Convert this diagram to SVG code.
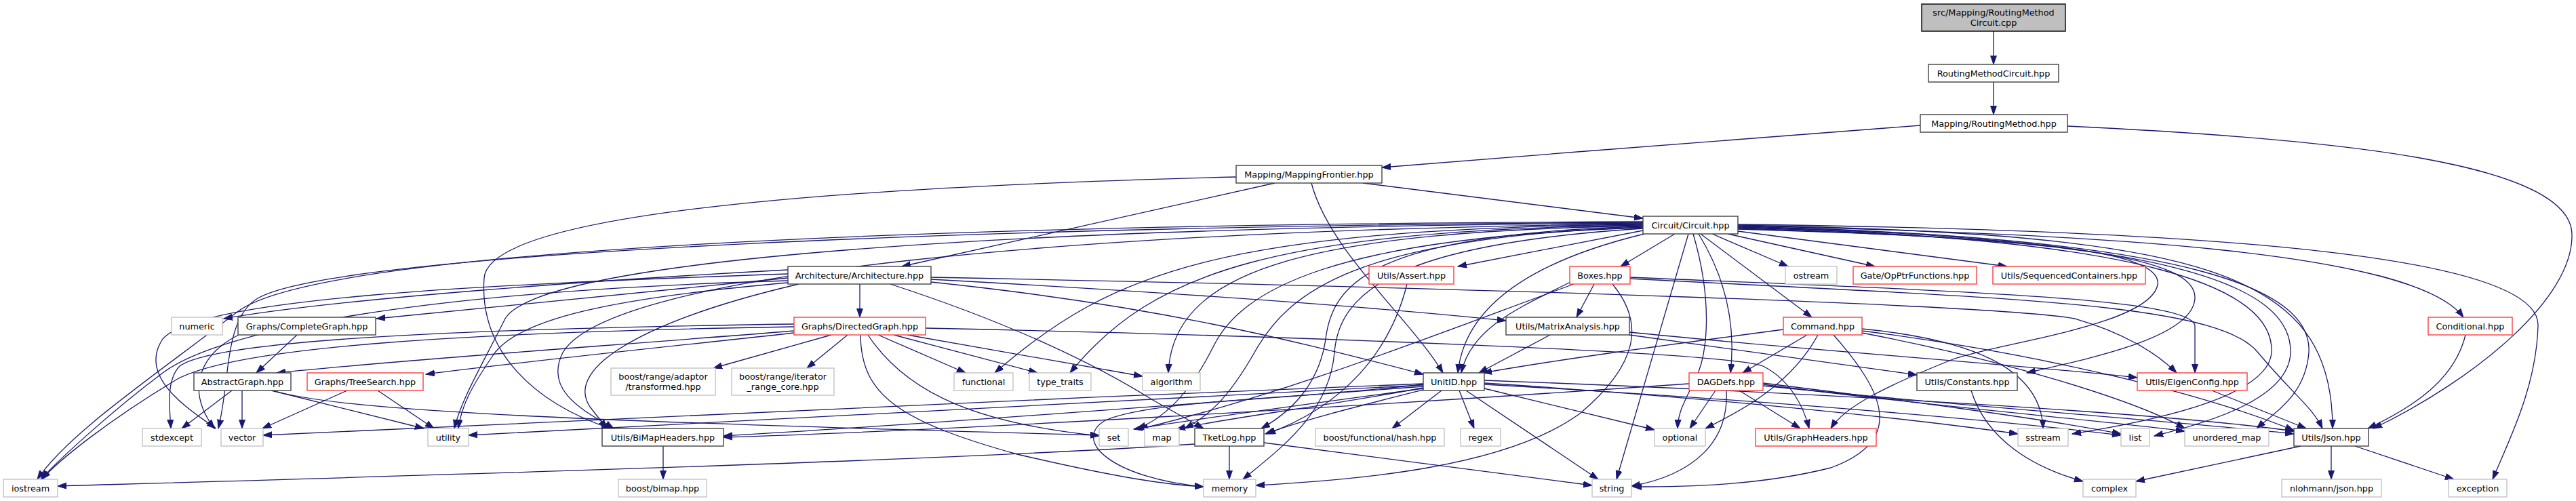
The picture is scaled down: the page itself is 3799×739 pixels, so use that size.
<svg xmlns="http://www.w3.org/2000/svg" width="3799" height="739" viewBox="0 0 3799 739">
<style>
rect{fill:#fff;stroke-width:1.4}
.k rect{stroke:#404040}
.r rect{stroke:#ff3c3c}
.g rect{stroke:#c4c4c4}
.root rect{fill:#bfbfbf;stroke:#000}
text{font-family:"DejaVu Sans","Liberation Sans",sans-serif;font-size:12.8px;fill:#000;text-anchor:middle}
#edges path{fill:none;stroke:#191970;stroke-width:1.3;marker-end:url(#a)}
</style>
<defs>
<marker id="a" markerWidth="14" markerHeight="11" refX="13" refY="5" orient="auto" markerUnits="userSpaceOnUse"><path d="M0,0.5 L13,5 L0,9.5 z" fill="#191970" stroke="#191970" stroke-width="1"/></marker>
</defs>
<rect x="0" y="0" width="3799" height="739" style="fill:#fff;stroke:none"/>
<g id="edges">
<path d="M2940,46 L2940,95"/>
<path d="M2940,121 L2940,169"/>
<path d="M2832,185 C2600,202 2300,226 2038,247"/>
<path d="M3049,186 C3450,205 3790,240 3793,345 C3796,440 3650,560 3500,632"/>
<path d="M2010,270 L2423,322"/>
<path d="M1880,270 L1330,393"/>
<path d="M1934,270 C1960,370 2080,470 2128,550"/>
<path d="M1823,261 C1400,272 722,300 714,410 C706,520 790,595 900,632"/>
<path d="M2423,340 L2150,393"/>
<path d="M2470,345 L2390,393"/>
<path d="M2525,345 L2637,393"/>
<path d="M2548,345 L2765,393"/>
<path d="M2563,341 L2960,393"/>
<path d="M2508,345 L2672,468"/>
<path d="M2425,345 C2260,385 2160,450 2150,550"/>
<path d="M2490,345 L2384,707"/>
<path d="M2497,345 C2525,440 2520,520 2500,560 C2480,600 2475,610 2474,632"/>
<path d="M2505,345 C2545,410 2560,480 2552,550"/>
<path d="M2563,333 C3100,345 3560,370 3633,468"/>
<path d="M2563,331 C3300,340 3745,380 3743,480 C3741,570 3700,650 3676,707"/>
<path d="M2563,332 C3250,345 3440,400 3440,632"/>
<path d="M2563,334 C3250,350 3410,430 3405,520 C3400,585 3350,612 3328,632"/>
<path d="M2563,335 C3200,350 3380,420 3378,520 C3376,590 3250,625 3177,643"/>
<path d="M2563,336 C3150,350 3355,420 3350,520 C3345,590 3150,625 3056,640"/>
<path d="M2563,337 C3050,352 3240,380 3237,440 C3234,495 3100,525 2989,550"/>
<path d="M2563,338 C3000,350 3190,370 3182,420 C3170,480 2950,505 2880,530 C2780,570 2720,600 2700,632"/>
<path d="M2423,331 C1800,338 1640,400 1467,550"/>
<path d="M2423,332 C1880,340 1700,400 1578,550"/>
<path d="M2423,333 C1950,342 1730,390 1723,550"/>
<path d="M2423,334 C2020,345 1965,420 1955,500 C1945,570 1900,610 1860,632"/>
<path d="M2423,335 C2000,350 1900,430 1850,520 C1810,590 1780,615 1747,632"/>
<path d="M2423,336 C1960,350 1830,430 1790,510 C1750,590 1710,620 1677,632"/>
<path d="M2423,337 C2060,360 1975,430 1968,520 C1960,610 1890,660 1833,707"/>
<path d="M2423,329 C1500,335 800,380 745,470 C710,540 680,590 670,632"/>
<path d="M2423,328 C1500,333 500,370 380,440 C330,470 340,560 322,632"/>
<path d="M2423,327 C1500,330 480,360 350,460 C220,560 100,640 55,707"/>
<path d="M2423,330 C1600,340 900,400 830,520 C800,580 870,610 905,632"/>
<path d="M1268,419 L1268,468"/>
<path d="M1162,398 C900,412 500,440 330,470"/>
<path d="M1162,410 L555,470"/>
<path d="M1162,404 C700,420 290,440 240,500 C200,560 290,610 318,632"/>
<path d="M1162,414 C600,430 320,490 240,550 C160,610 85,680 60,707"/>
<path d="M1162,417 C900,440 770,470 730,520 C695,570 680,600 676,632"/>
<path d="M1178,419 C960,470 830,540 870,600 L895,632"/>
<path d="M1313,419 C1500,480 1620,540 1700,590 L1775,632"/>
<path d="M1373,412 C1700,430 2000,450 2221,473"/>
<path d="M1373,416 C1700,450 1900,500 2099,552"/>
<path d="M1373,409 C2200,425 2950,450 3060,470 C3130,490 3180,520 3210,550"/>
<path d="M2351,419 L2325,468"/>
<path d="M2318,415 C2250,450 2170,480 2155,550"/>
<path d="M2378,419 C2420,470 2425,530 2330,610 C2220,690 2000,708 1852,716"/>
<path d="M2321,419 C2100,500 1900,580 1680,633"/>
<path d="M2404,409 C2900,430 3230,440 3237,480 L3237,550"/>
<path d="M2404,411 C2950,440 3270,445 3330,520 C3380,580 3410,600 3425,632"/>
<path d="M2075,419 C2050,520 1980,600 1868,640"/>
<path d="M2286,494 L2181,550"/>
<path d="M2403,494 L2827,553"/>
<path d="M2403,490 C2700,520 2950,535 3152,557"/>
<path d="M2665,494 L2570,550"/>
<path d="M2681,494 C2640,570 2560,610 2515,632"/>
<path d="M2704,494 C2780,580 2810,650 2700,690 C2600,715 2500,718 2408,718"/>
<path d="M2630,486 C2450,510 2300,530 2187,550"/>
<path d="M2746,485 C2900,500 3010,540 3013,632"/>
<path d="M2746,488 C3000,520 3250,580 3383,635"/>
<path d="M2746,491 C2950,530 3150,590 3222,632"/>
<path d="M3636,494 C3620,560 3560,600 3492,632"/>
<path d="M1171,488 C900,510 600,530 408,550"/>
<path d="M1171,491 C1000,510 800,530 628,552"/>
<path d="M1226,494 L1052,543"/>
<path d="M1250,494 L1190,543"/>
<path d="M1295,494 L1424,550"/>
<path d="M1318,494 L1530,550"/>
<path d="M1338,494 L1685,555"/>
<path d="M1269,494 C1270,580 1320,620 1500,670 C1650,705 1720,715 1775,718"/>
<path d="M1280,494 C1340,585 1450,625 1621,643"/>
<path d="M1365,484 C1900,495 2550,520 2600,540 C2640,560 2660,600 2668,632"/>
<path d="M1171,478 C700,485 320,500 265,540 C245,560 250,600 252,632"/>
<path d="M1171,482 C700,490 350,510 260,560 C160,620 85,680 62,707"/>
<path d="M438,494 L378,550"/>
<path d="M352,494 C300,520 270,570 316,632"/>
<path d="M342,576 L268,632"/>
<path d="M357,576 L357,632"/>
<path d="M400,576 L625,632"/>
<path d="M402,576 C500,605 800,620 1621,642"/>
<path d="M512,576 L387,632"/>
<path d="M557,576 L640,632"/>
<path d="M978,658 L978,707"/>
<path d="M2126,576 L2053,632"/>
<path d="M2152,576 L2174,632"/>
<path d="M2162,576 L2357,707"/>
<path d="M2189,573 L2440,634"/>
<path d="M2099,566 C1500,590 800,620 388,642"/>
<path d="M2099,568 C1500,600 900,630 691,642"/>
<path d="M2099,570 C1700,600 1300,630 1067,643"/>
<path d="M2099,572 C1950,600 1800,618 1735,633"/>
<path d="M2099,573 C1900,600 1750,620 1672,633"/>
<path d="M2099,575 C2000,600 1920,620 1866,640"/>
<path d="M2099,567 C1900,590 1700,590 1630,620 C1580,650 1640,705 1775,718"/>
<path d="M2189,565 C2500,585 2800,615 2976,640"/>
<path d="M2189,561 C2700,580 3200,610 3383,636"/>
<path d="M2189,567 C2600,590 2950,620 3128,642"/>
<path d="M2530,576 L2492,632"/>
<path d="M2546,576 C2550,650 2500,700 2406,717"/>
<path d="M2565,576 L2655,632"/>
<path d="M2491,566 C2000,600 1400,635 1067,645"/>
<path d="M2600,565 C2800,590 3000,615 3128,640"/>
<path d="M2600,567 C2850,600 3100,620 3222,636"/>
<path d="M2600,569 C2900,600 3200,620 3383,640"/>
<path d="M1813,658 L1813,707"/>
<path d="M1864,653 L2348,716"/>
<path d="M1762,655 C1400,680 500,705 85,717"/>
<path d="M2907,576 C2930,650 3000,690 3072,710"/>
<path d="M3262,576 L3401,632"/>
<path d="M3393,658 L3150,710"/>
<path d="M3438,658 L3438,707"/>
<path d="M3473,658 L3619,707"/>
</g>
<g id="n0" class="root"><rect x="2834" y="6" width="212" height="40"/><text x="2940" y="23">src/Mapping/RoutingMethod</text><text x="2940" y="38">Circuit.cpp</text></g>
<g id="n1" class="k"><rect x="2844" y="95" width="192" height="26"/><text x="2940" y="112.5">RoutingMethodCircuit.hpp</text></g>
<g id="n2" class="k"><rect x="2832" y="169" width="217" height="26"/><text x="2940.5" y="186.5">Mapping/RoutingMethod.hpp</text></g>
<g id="n3" class="k"><rect x="1823" y="244" width="215" height="26"/><text x="1930.5" y="261.5">Mapping/MappingFrontier.hpp</text></g>
<g id="n4" class="k"><rect x="2423" y="319" width="140" height="26"/><text x="2493" y="336.5">Circuit/Circuit.hpp</text></g>
<g id="n5" class="k"><rect x="1162" y="393" width="211" height="26"/><text x="1267.5" y="410.5">Architecture/Architecture.hpp</text></g>
<g id="n6" class="r"><rect x="2019" y="393" width="125" height="26"/><text x="2081.5" y="410.5">Utils/Assert.hpp</text></g>
<g id="n7" class="r"><rect x="2315" y="393" width="89" height="26"/><text x="2359.5" y="410.5">Boxes.hpp</text></g>
<g id="n8" class="g"><rect x="2633" y="393" width="76" height="26"/><text x="2671" y="410.5">ostream</text></g>
<g id="n9" class="r"><rect x="2733" y="393" width="182" height="26"/><text x="2824" y="410.5">Gate/OpPtrFunctions.hpp</text></g>
<g id="n10" class="r"><rect x="2939" y="393" width="225" height="26"/><text x="3051.5" y="410.5">Utils/SequencedContainers.hpp</text></g>
<g id="n11" class="g"><rect x="253" y="468" width="75" height="26"/><text x="290.5" y="485.5">numeric</text></g>
<g id="n12" class="k"><rect x="351" y="468" width="203" height="26"/><text x="452.5" y="485.5">Graphs/CompleteGraph.hpp</text></g>
<g id="n13" class="r"><rect x="1171" y="468" width="194" height="26"/><text x="1268" y="485.5">Graphs/DirectedGraph.hpp</text></g>
<g id="n14" class="k"><rect x="2221" y="468" width="182" height="26"/><text x="2312" y="485.5">Utils/MatrixAnalysis.hpp</text></g>
<g id="n15" class="r"><rect x="2630" y="468" width="116" height="26"/><text x="2688" y="485.5">Command.hpp</text></g>
<g id="n16" class="r"><rect x="3581" y="468" width="124" height="26"/><text x="3643" y="485.5">Conditional.hpp</text></g>
<g id="n17" class="k"><rect x="286" y="550" width="143" height="26"/><text x="357.5" y="567.5">AbstractGraph.hpp</text></g>
<g id="n18" class="r"><rect x="453" y="550" width="171" height="26"/><text x="538.5" y="567.5">Graphs/TreeSearch.hpp</text></g>
<g id="n19" class="g"><rect x="901" y="543" width="154" height="40"/><text x="978" y="560">boost/range/adaptor</text><text x="978" y="575">/transformed.hpp</text></g>
<g id="n20" class="g"><rect x="1079" y="543" width="151" height="40"/><text x="1154.5" y="560">boost/range/iterator</text><text x="1154.5" y="575">_range_core.hpp</text></g>
<g id="n21" class="g"><rect x="1407" y="550" width="87" height="26"/><text x="1450.5" y="567.5">functional</text></g>
<g id="n22" class="g"><rect x="1518" y="550" width="91" height="26"/><text x="1563.5" y="567.5">type_traits</text></g>
<g id="n23" class="g"><rect x="1685" y="550" width="85" height="26"/><text x="1727.5" y="567.5">algorithm</text></g>
<g id="n24" class="k"><rect x="2099" y="550" width="90" height="26"/><text x="2144" y="567.5">UnitID.hpp</text></g>
<g id="n25" class="r"><rect x="2491" y="550" width="109" height="26"/><text x="2545.5" y="567.5">DAGDefs.hpp</text></g>
<g id="n26" class="k"><rect x="2827" y="550" width="148" height="26"/><text x="2901" y="567.5">Utils/Constants.hpp</text></g>
<g id="n27" class="r"><rect x="3152" y="550" width="162" height="26"/><text x="3233" y="567.5">Utils/EigenConfig.hpp</text></g>
<g id="n28" class="g"><rect x="210" y="632" width="87" height="26"/><text x="253.5" y="649.5">stdexcept</text></g>
<g id="n29" class="g"><rect x="326" y="632" width="62" height="26"/><text x="357" y="649.5">vector</text></g>
<g id="n30" class="g"><rect x="631" y="632" width="60" height="26"/><text x="661" y="649.5">utility</text></g>
<g id="n31" class="k"><rect x="888" y="632" width="179" height="26"/><text x="977.5" y="649.5">Utils/BiMapHeaders.hpp</text></g>
<g id="n32" class="g"><rect x="1621" y="632" width="43" height="26"/><text x="1642.5" y="649.5">set</text></g>
<g id="n33" class="g"><rect x="1688" y="632" width="51" height="26"/><text x="1713.5" y="649.5">map</text></g>
<g id="n34" class="k"><rect x="1762" y="632" width="102" height="26"/><text x="1813" y="649.5">TketLog.hpp</text></g>
<g id="n35" class="g"><rect x="1940" y="632" width="190" height="26"/><text x="2035" y="649.5">boost/functional/hash.hpp</text></g>
<g id="n36" class="g"><rect x="2154" y="632" width="59" height="26"/><text x="2183.5" y="649.5">regex</text></g>
<g id="n37" class="g"><rect x="2440" y="632" width="75" height="26"/><text x="2477.5" y="649.5">optional</text></g>
<g id="n38" class="r"><rect x="2589" y="632" width="178" height="26"/><text x="2678" y="649.5">Utils/GraphHeaders.hpp</text></g>
<g id="n39" class="g"><rect x="2976" y="632" width="74" height="26"/><text x="3013" y="649.5">sstream</text></g>
<g id="n40" class="g"><rect x="3128" y="632" width="42" height="26"/><text x="3149" y="649.5">list</text></g>
<g id="n41" class="g"><rect x="3222" y="632" width="124" height="26"/><text x="3284" y="649.5">unordered_map</text></g>
<g id="n42" class="k"><rect x="3383" y="632" width="110" height="26"/><text x="3438" y="649.5">Utils/Json.hpp</text></g>
<g id="n43" class="g"><rect x="5" y="707" width="80" height="26"/><text x="45" y="724.5">iostream</text></g>
<g id="n44" class="g"><rect x="912" y="707" width="130" height="26"/><text x="977" y="724.5">boost/bimap.hpp</text></g>
<g id="n45" class="g"><rect x="1775" y="707" width="77" height="26"/><text x="1813.5" y="724.5">memory</text></g>
<g id="n46" class="g"><rect x="2348" y="707" width="58" height="26"/><text x="2377" y="724.5">string</text></g>
<g id="n47" class="g"><rect x="3072" y="707" width="78" height="26"/><text x="3111" y="724.5">complex</text></g>
<g id="n48" class="g"><rect x="3365" y="707" width="147" height="26"/><text x="3438.5" y="724.5">nlohmann/json.hpp</text></g>
<g id="n49" class="g"><rect x="3611" y="707" width="86" height="26"/><text x="3654" y="724.5">exception</text></g>
</svg>
